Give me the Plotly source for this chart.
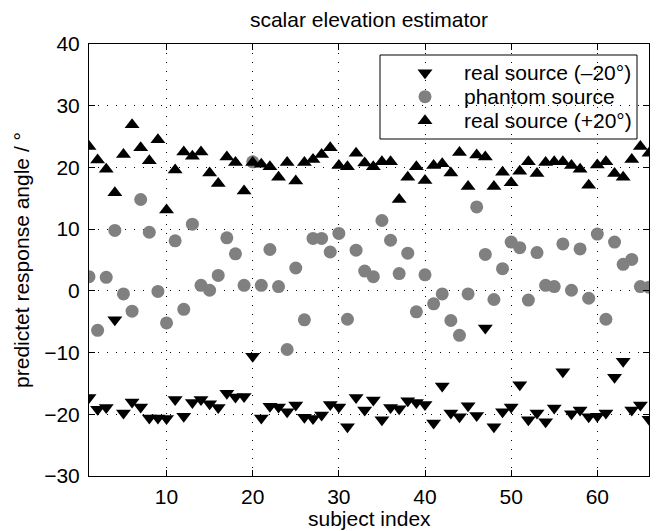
import plotly.graph_objects as go

subjects = list(range(1, 67))

real_minus20 = [
    -17.3, -19.2, -18.9, -4.7, -19.8, -18.0, -18.8, -20.6, -20.6, -20.7,
    -17.6, -20.3, -18.1, -17.6, -18.3, -18.9, -16.6, -17.2, -17.1, -10.6,
    -20.6, -18.7, -18.8, -19.6, -18.5, -20.5, -20.7, -20.1, -18.4, -18.8,
    -22.0, -17.3, -19.3, -17.7, -20.9, -18.9, -19.1, -17.8, -18.1, -18.4,
    -21.4, -15.4, -19.8, -20.4, -18.6, -20.2, -6.0, -22.0, -19.6, -18.8,
    -15.2, -20.9, -19.8, -21.2, -19.0, -13.1, -19.9, -19.3, -20.4, -20.3,
    -19.8, -14.0, -11.4, -19.3, -18.5, -20.8,
]

phantom = [
    2.3, -6.4, 2.2, 9.8, -0.5, -3.3, 14.8, 9.5, -0.1, -5.2,
    8.1, -3.0, 10.8, 0.9, 0.1, 2.5, 8.6, 6.0, 0.9, 20.9,
    0.9, 6.7, 0.7, -9.5, 3.7, -4.7, 8.5, 8.5, 6.3, 9.3,
    -4.6, 6.6, 3.2, 2.3, 11.4, 8.2, 2.8, 6.1, -3.4, 2.6,
    -2.1, -0.5, -4.8, -7.2, -0.5, 13.6, 5.9, -1.4, 3.6, 7.9,
    7.0, -1.5, 6.2, 0.9, 0.7, 7.6, 0.1, 6.8, -1.2, 9.2,
    -4.6, 7.9, 4.3, 5.1, 0.7, 0.6,
]

real_plus20 = [
    23.4, 21.2, 19.7, 15.9, 22.1, 26.9, 23.2, 21.1, 24.5, 13.1,
    19.6, 22.5, 21.8, 22.5, 19.1, 17.4, 21.7, 20.8, 16.2, 20.8,
    20.5, 20.1, 18.4, 20.8, 17.8, 20.8, 21.3, 22.1, 23.2, 20.3,
    20.1, 22.3, 20.7, 20.1, 20.9, 20.9, 14.8, 18.4, 20.1, 17.9,
    20.3, 20.6, 19.1, 22.4, 16.9, 22.0, 21.7, 16.9, 19.2, 17.5,
    19.4, 20.9, 19.0, 20.8, 20.9, 20.9, 20.3, 19.7, 17.1, 20.4,
    20.9, 19.0, 18.4, 21.3, 23.4, 22.3,
]

series_names = ["real source (\u201320\u00b0)", "phantom source", "real source (+20\u00b0)"]
x_ticks = [10, 20, 30, 40, 50, 60]
y_ticks = [-30, -20, -10, 0, 10, 20, 30, 40]
x_title = "subject index"
y_title = "predictet response angle / \u00b0"
chart_title = "scalar elevation estimator"

FONT = "Liberation Sans, Arial, Helvetica, sans-serif"
FS = 21
LEG_FS = 21

# plot area in pixels
PL, PR, PT, PB = 89, 649, 44, 476
W, H = 671, 531

styles = [
    dict(symbol="triangle-down", size=13, color="black", line=dict(width=0)),
    dict(symbol="circle", size=13, color="#808080", line=dict(width=0)),
    dict(symbol="triangle-up", size=13, color="black", line=dict(width=0)),
]
series = [real_minus20, phantom, real_plus20]

fig = go.Figure()
for name, vals, st in zip(series_names, series, styles):
    fig.add_trace(go.Scatter(x=subjects, y=vals, mode="markers", name=name,
                             marker=st, showlegend=False))

# manual legend (pixel coordinates via overlay axes)
leg_box = dict(x0=380, x1=637, y0=55, y1=139)
leg_rows = [72.7, 96.7, 120.7]
leg_sym_x = 425
leg_txt_x = 463

for name, st, ry in zip(series_names, styles, leg_rows):
    fig.add_trace(go.Scatter(x=[leg_sym_x], y=[ry], xaxis="x2", yaxis="y2", mode="markers",
                             marker=st, showlegend=False, hoverinfo="skip", name=name))
    fig.add_annotation(text=name, xref="paper", yref="paper",
                       x=(leg_txt_x - PL) / (PR - PL), y=(PB - ry) / (PB - PT),
                       xanchor="left", yanchor="middle", showarrow=False, borderpad=0,
                       font=dict(family=FONT, size=LEG_FS, color="black"))

fig.add_shape(type="rect", xref="paper", yref="paper",
              x0=(leg_box["x0"] - PL) / (PR - PL), x1=(leg_box["x1"] - PL) / (PR - PL),
              y0=(PB - leg_box["y1"]) / (PB - PT), y1=(PB - leg_box["y0"]) / (PB - PT),
              line=dict(color="black", width=1), fillcolor="white", layer="between")

# x-axis title as annotation so it stays inside the page
fig.add_annotation(text=x_title, xref="paper", yref="paper", x=0.5,
                   y=(PB - 531) / (PB - PT), xanchor="center", yanchor="bottom",
                   showarrow=False, borderpad=0,
                   font=dict(family=FONT, size=FS, color="black"))

axis_common = dict(
    showline=True, linecolor="black", linewidth=1, mirror="ticks",
    ticks="inside", ticklen=6, tickcolor="black", tickwidth=1,
    showgrid=True, gridcolor="black", gridwidth=1, griddash="1px,8px",
    zeroline=False, tickfont=dict(family=FONT, size=FS, color="black"),
)

fig.update_layout(
    width=W, height=H,
    margin=dict(l=PL, r=W - PR, t=PT, b=H - PB),
    paper_bgcolor="white", plot_bgcolor="white",
    font=dict(family=FONT, size=FS, color="black"),
    title=dict(text=chart_title, x=((PL + PR) / 2) / W, xref="container", xanchor="center",
               y=1 - 20 / H, yref="container", yanchor="middle",
               font=dict(family=FONT, size=FS, color="black")),
    xaxis=dict(range=[1, 66], tickvals=x_ticks, ticktext=[str(v) for v in x_ticks],
               ticklabelstandoff=2, **axis_common),
    yaxis=dict(range=[-30, 40], tickvals=y_ticks,
               ticktext=[("\u2212" + str(-v)) if v < 0 else str(v) for v in y_ticks],
               ticklabelstandoff=4,
               title=dict(text=y_title, standoff=8, font=dict(size=FS)), **axis_common),
    xaxis2=dict(overlaying="x", anchor="y2", range=[PL, PR], visible=False, fixedrange=True),
    yaxis2=dict(overlaying="y", anchor="x2", range=[PB, PT], visible=False, fixedrange=True),
    showlegend=False,
)

fig.write_html("out.html", config={"displayModeBar": False},
               post_script="document.body.style.margin='0';document.body.style.padding='0';")
